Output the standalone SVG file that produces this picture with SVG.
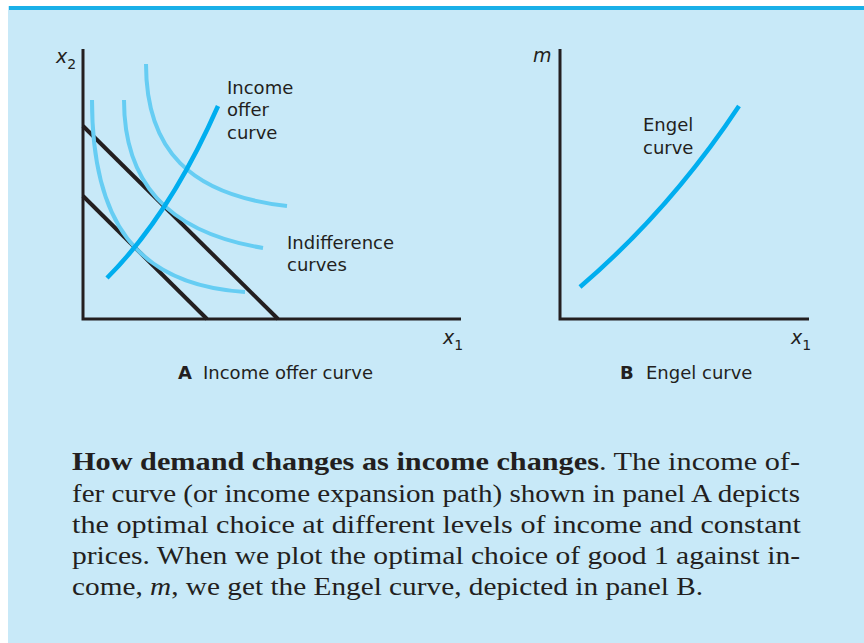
<svg xmlns="http://www.w3.org/2000/svg" width="864" height="643" viewBox="0 0 864 643">
<style>
.axis{stroke:#231f20;stroke-width:3;fill:none}
.budget{stroke:#231f20;stroke-width:4;fill:none}
.ic{stroke:#66cdf3;stroke-width:4;fill:none}
.main{stroke:#00aeef;stroke-width:4.5;fill:none;stroke-linecap:butt}
.lbl{font-family:"DejaVu Sans","Liberation Sans",sans-serif;font-size:18px;fill:#231f20}
.var{font-family:"DejaVu Sans","Liberation Sans",sans-serif;font-size:19px;font-style:italic;fill:#231f20}
.sub{font-family:"DejaVu Sans","Liberation Sans",sans-serif;font-size:14px;fill:#231f20}
.cap{font-family:"Liberation Serif","DejaVu Serif",serif;font-size:26px;fill:#231f20}
</style>
<rect x="0" y="0" width="864" height="643" fill="#ffffff"/>
<rect x="8" y="6" width="856" height="637" fill="#c8e9f8"/>
<rect x="9" y="6" width="855" height="4" fill="#1ab0e8"/>

<g id="panelA">
  <g id="axesA">
    <polyline class="axis" points="83,49 83,319 461,319"/>
    <text class="var" x="56" y="63">x<tspan class="sub" dy="6" font-style="normal">2</tspan></text>
    <text class="var" x="443" y="344">x<tspan class="sub" dy="6" font-style="normal">1</tspan></text>
  </g>
  <g id="budget-lines">
    <line class="budget" x1="83" y1="126" x2="278" y2="319"/>
    <line class="budget" x1="83" y1="196" x2="207" y2="319"/>
  </g>
  <g id="indifference-curves">
    <path class="ic" d="M92,100 C92,220 135,285 245,292"/>
    <path class="ic" d="M124,100 C124,180 165,232 263,248"/>
    <path class="ic" d="M146,64 C146,150 190,195 287,206"/>
    <text class="lbl" x="287" y="249">Indifference</text>
    <text class="lbl" x="287" y="271">curves</text>
  </g>
  <g id="income-offer-curve">
    <path class="main" d="M107,278 Q170,215 218,106"/>
    <text class="lbl" x="227" y="94">Income</text>
    <text class="lbl" x="227" y="116">offer</text>
    <text class="lbl" x="227" y="139">curve</text>
  </g>
  <text class="lbl" x="178" y="379"><tspan font-weight="bold">A</tspan><tspan x="203">Income offer curve</tspan></text>
</g>

<g id="panelB">
  <g id="axesB">
    <polyline class="axis" points="560,49 560,319 809,319"/>
    <text class="var" x="533" y="62">m</text>
    <text class="var" x="791" y="344">x<tspan class="sub" dy="6" font-style="normal">1</tspan></text>
  </g>
  <g id="engel-curve">
    <path class="main" d="M580,287 Q670,210 739,106"/>
    <text class="lbl" x="643" y="131">Engel</text>
    <text class="lbl" x="643" y="154">curve</text>
  </g>
  <text class="lbl" x="620" y="379"><tspan font-weight="bold">B</tspan><tspan x="646">Engel curve</tspan></text>
</g>

<g id="caption">
  <text class="cap" x="72" y="470" textLength="728" lengthAdjust="spacingAndGlyphs"><tspan font-weight="bold">How demand changes as income changes</tspan>.  The income of-</text>
  <text class="cap" x="72" y="502" textLength="728" lengthAdjust="spacingAndGlyphs">fer curve (or income expansion path) shown in panel A depicts</text>
  <text class="cap" x="72" y="533" textLength="729" lengthAdjust="spacingAndGlyphs">the optimal choice at different levels of income and constant</text>
  <text class="cap" x="72" y="564" textLength="728" lengthAdjust="spacingAndGlyphs">prices. When we plot the optimal choice of good 1 against in-</text>
  <text class="cap" x="72" y="595" textLength="631" lengthAdjust="spacingAndGlyphs">come, <tspan font-style="italic">m</tspan>, we get the Engel curve, depicted in panel B.</text>
</g>
</svg>
